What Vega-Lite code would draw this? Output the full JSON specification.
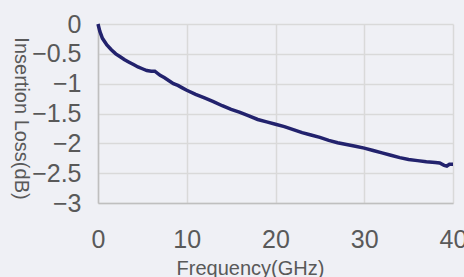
{
  "$schema": "https://vega.github.io/schema/vega-lite/v6.json",
  "width": 355,
  "height": 179,
  "autosize": "none",
  "padding": {"left": 98, "top": 24, "right": 11, "bottom": 74},
  "background": "#eff0f5",
  "config": {"view": {"stroke": null}, "font": "Liberation Sans"},
  "data": {"values": [
    {"f": 0, "v": 0}, {"f": 0.2, "v": -0.12}, {"f": 0.5, "v": -0.24}, {"f": 1, "v": -0.35},
    {"f": 1.5, "v": -0.43}, {"f": 2, "v": -0.5}, {"f": 2.5, "v": -0.55}, {"f": 3, "v": -0.6},
    {"f": 3.5, "v": -0.64}, {"f": 4, "v": -0.68}, {"f": 4.5, "v": -0.72}, {"f": 5, "v": -0.75},
    {"f": 5.5, "v": -0.78}, {"f": 6, "v": -0.79}, {"f": 6.4, "v": -0.79}, {"f": 7, "v": -0.86},
    {"f": 7.5, "v": -0.9}, {"f": 8, "v": -0.95}, {"f": 8.5, "v": -1.0}, {"f": 9, "v": -1.03},
    {"f": 9.5, "v": -1.07}, {"f": 10, "v": -1.11}, {"f": 11, "v": -1.18}, {"f": 12, "v": -1.24},
    {"f": 13, "v": -1.3}, {"f": 14, "v": -1.37}, {"f": 15, "v": -1.43}, {"f": 16, "v": -1.48},
    {"f": 17, "v": -1.54}, {"f": 18, "v": -1.6}, {"f": 19, "v": -1.64}, {"f": 20, "v": -1.68},
    {"f": 21, "v": -1.72}, {"f": 22, "v": -1.77}, {"f": 23, "v": -1.82}, {"f": 24, "v": -1.86},
    {"f": 25, "v": -1.9}, {"f": 26, "v": -1.95}, {"f": 27, "v": -1.99}, {"f": 28, "v": -2.02},
    {"f": 29, "v": -2.05}, {"f": 30, "v": -2.08}, {"f": 31, "v": -2.12}, {"f": 32, "v": -2.16},
    {"f": 33, "v": -2.2}, {"f": 34, "v": -2.24}, {"f": 35, "v": -2.27}, {"f": 36, "v": -2.29},
    {"f": 37, "v": -2.31}, {"f": 38, "v": -2.32}, {"f": 38.5, "v": -2.33}, {"f": 39, "v": -2.37},
    {"f": 39.3, "v": -2.38}, {"f": 39.6, "v": -2.35}, {"f": 40, "v": -2.35}
  ]},
  "mark": {"type": "line", "color": "#22226d", "strokeWidth": 3.5},
  "encoding": {
    "x": {
      "field": "f", "type": "quantitative",
      "scale": {"domain": [0, 40], "nice": false},
      "axis": {
        "values": [0, 10, 20, 30, 40], "title": "Frequency(GHz)", "format": "d",
        "labelFontSize": 25, "labelColor": "#595959", "labelPadding": 24, "labelFlush": false,
        "ticks": false, "grid": true, "gridColor": "#d9d9d9", "gridWidth": 1.5,
        "domainColor": "#bfbfbf", "domainWidth": 1.5,
        "titleFontSize": 20, "titleFontWeight": "normal", "titleColor": "#595959",
        "titleX": 152, "titleY": 65, "titleBaseline": "middle", "titleAlign": "center"
      }
    },
    "y": {
      "field": "v", "type": "quantitative",
      "scale": {"domain": [-3, 0], "nice": false},
      "axis": {
        "values": [0, -0.5, -1, -1.5, -2, -2.5, -3], "title": "Insertion Loss(dB)", "format": "~g",
        "labelFontSize": 25, "labelColor": "#595959", "labelPadding": 17, "labelFlush": false,
        "ticks": false, "grid": true, "gridColor": "#d9d9d9", "gridWidth": 1.5,
        "domainColor": "#bfbfbf", "domainWidth": 1.5,
        "titleFontSize": 20, "titleFontWeight": "normal", "titleColor": "#595959",
        "titleAngle": 90, "titleX": -78, "titleY": 94, "titleBaseline": "middle", "titleAlign": "center"
      }
    }
  }
}
